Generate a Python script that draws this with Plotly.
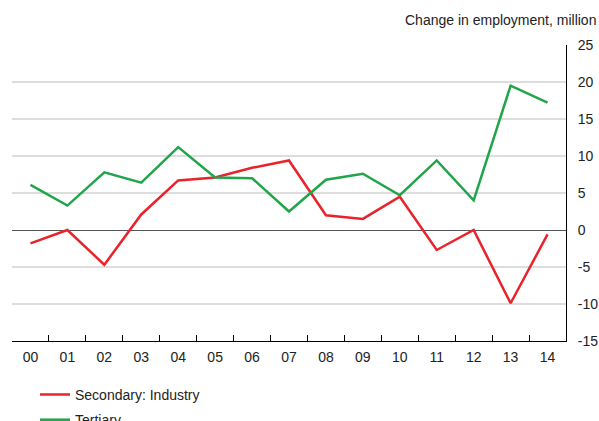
import plotly.graph_objects as go

years = ["00", "01", "02", "03", "04", "05", "06", "07", "08", "09", "10", "11", "12", "13", "14"]
secondary = [-1.8, 0.0, -4.7, 2.1, 6.7, 7.1, 8.4, 9.4, 2.0, 1.5, 4.5, -2.7, 0.0, -9.9, -0.6]
tertiary = [6.1, 3.3, 7.8, 6.4, 11.2, 7.1, 7.0, 2.5, 6.8, 7.6, 4.7, 9.4, 4.0, 19.5, 17.2]
y_ticks = [-15, -10, -5, 0, 5, 10, 15, 20, 25]
y_ticktext = [str(v) for v in y_ticks]  # plain hyphen-minus, as in the reference
grid_vals = [-10, -5, 5, 10, 15, 20]

RED = "#e8232b"
GREEN = "#21a54a"
FONT = "Liberation Sans, Arial, sans-serif"
TXT = "#222222"

fig = go.Figure()
fig.add_trace(go.Scatter(x=years, y=secondary, mode="lines", name="Secondary: Industry",
                         legendgroup="a", line=dict(color=RED, width=2.5)))
fig.add_trace(go.Scatter(x=years, y=tertiary, mode="lines", name="Tertiary",
                         legendgroup="b", line=dict(color=GREEN, width=2.5)))

fig.update_layout(
    width=599, height=421,
    margin=dict(l=12, r=33, t=45, b=80, autoexpand=False),
    plot_bgcolor="white", paper_bgcolor="white",
    font=dict(family=FONT, size=14, color=TXT),
    showlegend=True,
    legend=dict(x=0.0415, y=-0.128, xanchor="left", yanchor="top", orientation="v",
                font=dict(size=14, color=TXT), bgcolor="rgba(0,0,0,0)",
                itemwidth=30, tracegroupgap=4),
    xaxis=dict(
        type="category", tickson="boundaries", ticks="inside", ticklen=6,
        tickcolor="black", tickwidth=1, showline=True, linecolor="black", linewidth=1,
        showgrid=False, range=[-0.5, 14.5], tickfont=dict(size=14, color=TXT),
        automargin=False, ticklabelstandoff=3,
    ),
    yaxis=dict(
        side="right", range=[-15, 25], tickvals=grid_vals, showticklabels=False,
        showgrid=True, gridcolor="#dddddd", gridwidth=2, zeroline=False,
        showline=False, ticks="", automargin=False,
    ),
    yaxis2=dict(
        overlaying="y", matches="y", side="right", range=[-15, 25],
        tickvals=y_ticks, ticktext=y_ticktext,
        showgrid=False, zeroline=True, zerolinecolor="#555555", zerolinewidth=1,
        showline=True, linecolor="black", linewidth=1, ticks="outside", ticklen=8,
        tickcolor="rgba(0,0,0,0)", automargin=False,
        tickfont=dict(size=14, color=TXT),
    ),
)

# invisible trace to activate the right-hand label axis
fig.add_trace(go.Scatter(x=years, y=secondary, yaxis="y2", mode="lines",
                         line=dict(color="rgba(0,0,0,0)"), showlegend=False, hoverinfo="skip"))

fig.add_annotation(text="Change in employment, million", xref="paper", yref="paper",
                   x=1.058, y=1.084, xanchor="right", yanchor="middle", showarrow=False,
                   font=dict(size=14, color=TXT))

fig.write_html(
    "out.html",
    config={"displayModeBar": False},
    post_script=(
        "document.documentElement.style.overflow='hidden';"
        "document.body.style.overflow='hidden';"
        "document.body.style.margin='0';"
    ),
)
